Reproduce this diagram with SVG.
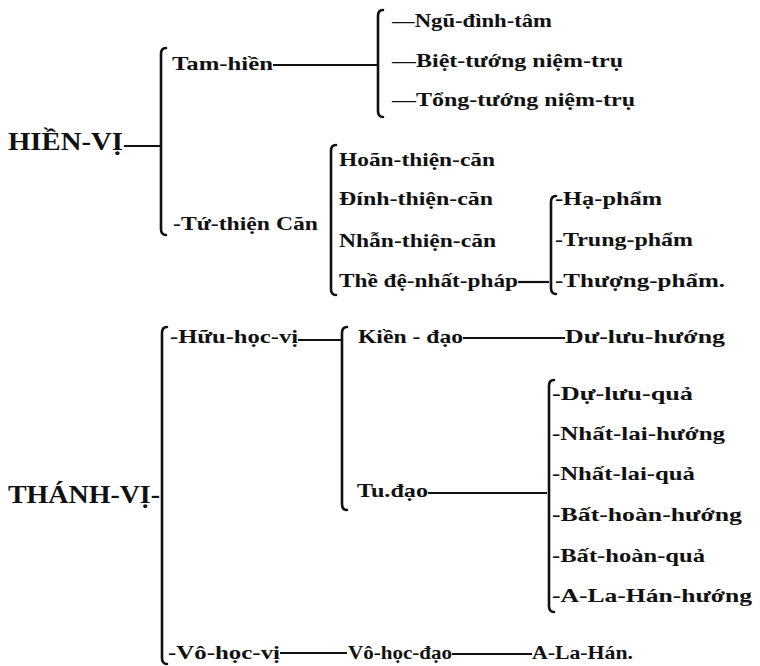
<svg xmlns="http://www.w3.org/2000/svg" width="760" height="666" viewBox="0 0 760 666">
<style>
text{font-family:"Liberation Serif","DejaVu Serif",serif;font-weight:bold;fill:#111;font-size:19px}
.big{font-size:25px}
.ln{stroke:#111;stroke-width:2.2;fill:none}
.br{stroke:#111;stroke-width:2.6;fill:none;stroke-linecap:round}
</style>
<rect width="760" height="666" fill="#fff"/>
<g id="connectors">
<line class="ln" x1="124" y1="146" x2="161" y2="146"/>
<path class="br" d="M166 48 Q161 48 161 54 V229 Q161 235 166 235"/>
<line class="ln" x1="273" y1="65" x2="377" y2="65"/>
<path class="br" d="M383 10 Q378 10 378 16 V111 Q378 117 383 117"/>
<path class="br" d="M336 145 Q331 145 331 151 V289 Q331 295 336 295"/>
<line class="ln" x1="518" y1="282" x2="549" y2="282"/>
<path class="br" d="M556 196 Q551 196 551 202 V288 Q551 294 556 294"/>
<path class="br" d="M167 327 Q162 327 162 333 V658 Q162 664 167 664"/>
<line class="ln" x1="298" y1="340" x2="341" y2="340"/>
<path class="br" d="M347 327 Q342 327 342 333 V504 Q342 510 347 510"/>
<line class="ln" x1="463" y1="338" x2="565" y2="338"/>
<line class="ln" x1="428" y1="493" x2="547" y2="493"/>
<path class="br" d="M554 380 Q549 380 549 386 V606 Q549 612 554 612"/>
<line class="ln" x1="280" y1="653" x2="347" y2="653"/>
<line class="ln" x1="452" y1="654" x2="532" y2="654"/>
</g>
<g id="hien-vi"><text class="big" x="8" y="150" textLength="115" lengthAdjust="spacingAndGlyphs">HIỀN-VỊ</text></g>
<g id="tam-hien"><text x="172" y="70" textLength="101" lengthAdjust="spacingAndGlyphs">Tam-hiền</text></g>
<g id="ngu-dinh-tam"><text x="392" y="27" textLength="160" lengthAdjust="spacingAndGlyphs">—Ngũ-đình-tâm</text></g>
<g id="biet-tuong"><text x="392" y="67" textLength="231" lengthAdjust="spacingAndGlyphs">—Biệt-tướng  niệm-trụ</text></g>
<g id="tong-tuong"><text x="392" y="106" textLength="243" lengthAdjust="spacingAndGlyphs">—Tổng-tướng  niệm-trụ</text></g>
<g id="tu-thien-can"><text x="173" y="230" textLength="145" lengthAdjust="spacingAndGlyphs">-Tứ-thiện Căn</text></g>
<g id="hoan-thien-can"><text x="339" y="166" textLength="156" lengthAdjust="spacingAndGlyphs">Hoãn-thiện-căn</text></g>
<g id="dinh-thien-can"><text x="339" y="205" textLength="154" lengthAdjust="spacingAndGlyphs">Đính-thiện-căn</text></g>
<g id="nhan-thien-can"><text x="339" y="247" textLength="157" lengthAdjust="spacingAndGlyphs">Nhẫn-thiện-căn</text></g>
<g id="the-de-nhat-phap"><text x="339" y="287" textLength="179" lengthAdjust="spacingAndGlyphs">Thề đệ-nhất-pháp</text></g>
<g id="ha-pham"><text x="555" y="205" textLength="107" lengthAdjust="spacingAndGlyphs">-Hạ-phẩm</text></g>
<g id="trung-pham"><text x="555" y="246" textLength="138" lengthAdjust="spacingAndGlyphs">-Trung-phẩm</text></g>
<g id="thuong-pham"><text x="555" y="287" textLength="170" lengthAdjust="spacingAndGlyphs">-Thượng-phẩm.</text></g>
<g id="thanh-vi"><text class="big" x="8" y="503" textLength="152" lengthAdjust="spacingAndGlyphs">THÁNH-VỊ-</text></g>
<g id="huu-hoc-vi"><text x="170" y="343" textLength="128" lengthAdjust="spacingAndGlyphs">-Hữu-học-vị</text></g>
<g id="kien-dao"><text x="358" y="343" textLength="105" lengthAdjust="spacingAndGlyphs">Kiền - đạo</text></g>
<g id="du-luu-huong"><text x="565" y="343" textLength="160" lengthAdjust="spacingAndGlyphs">Dư-lưu-hướng</text></g>
<g id="tu-dao"><text x="357" y="497" textLength="71" lengthAdjust="spacingAndGlyphs">Tu.đạo</text></g>
<g id="du-luu-qua"><text x="552" y="400" textLength="141" lengthAdjust="spacingAndGlyphs">-Dự-lưu-quả</text></g>
<g id="nhat-lai-huong"><text x="552" y="440" textLength="173" lengthAdjust="spacingAndGlyphs">-Nhất-lai-hướng</text></g>
<g id="nhat-lai-qua"><text x="552" y="480" textLength="143" lengthAdjust="spacingAndGlyphs">-Nhất-lai-quả</text></g>
<g id="bat-hoan-huong"><text x="552" y="521" textLength="190" lengthAdjust="spacingAndGlyphs">-Bất-hoàn-hướng</text></g>
<g id="bat-hoan-qua"><text x="552" y="562" textLength="153" lengthAdjust="spacingAndGlyphs">-Bất-hoàn-quả</text></g>
<g id="a-la-han-huong"><text x="552" y="602" textLength="200" lengthAdjust="spacingAndGlyphs">-A-La-Hán-hướng</text></g>
<g id="vo-hoc-vi"><text x="168" y="659" textLength="112" lengthAdjust="spacingAndGlyphs">-Vô-học-vị</text></g>
<g id="vo-hoc-dao"><text x="348" y="659" textLength="104" lengthAdjust="spacingAndGlyphs">Vô-học-đạo</text></g>
<g id="a-la-han"><text x="532" y="659" textLength="101" lengthAdjust="spacingAndGlyphs">A-La-Hán.</text></g>
</svg>
